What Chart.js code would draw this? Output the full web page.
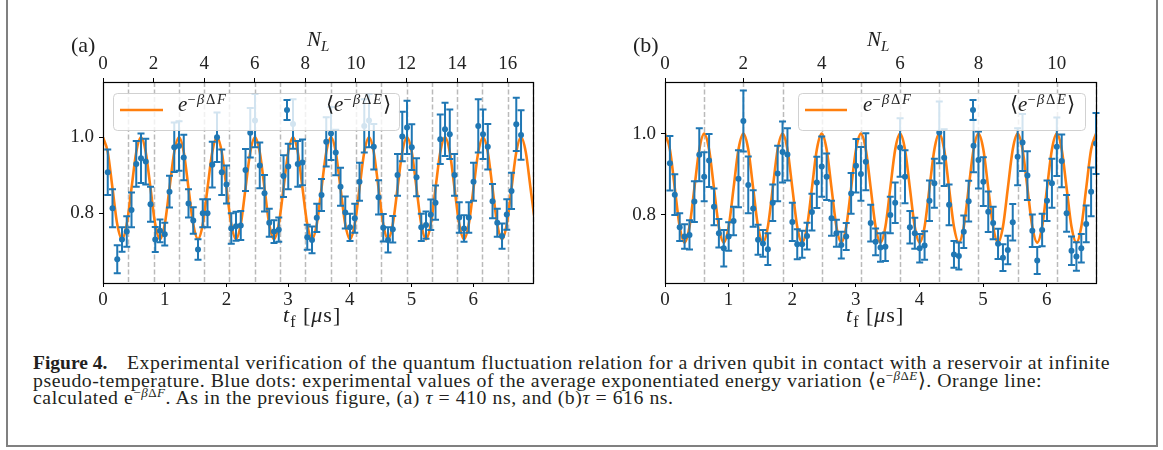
<!DOCTYPE html>
<html>
<head>
<meta charset="utf-8">
<script src="https://cdn.jsdelivr.net/npm/chart.js@4.4.1/dist/chart.umd.min.js"></script>
<style>
body{margin:0;background:#fff;width:1163px;height:450px;overflow:hidden;position:relative;font-family:'Liberation Serif',serif;color:#222}
canvas{position:absolute;top:0}
#ca{left:0}
#cb{left:580px}
.t{position:absolute;white-space:nowrap;font-size:21px;line-height:24px;color:#222}
.t sub{font-size:15px;vertical-align:-5px;line-height:0}
.lab{font-size:22px;letter-spacing:1px}
.lab sub{font-size:16px}
.leg sup{font-size:14.5px;letter-spacing:1.6px;vertical-align:7px;line-height:0}
.frame{position:absolute;left:6px;top:-4px;width:1152px;height:451px;border:2px solid #808080;box-sizing:border-box}
.cap{position:absolute;white-space:nowrap;font-size:19.8px;line-height:20px;color:#231f20}
.cap sup{font-size:13px;vertical-align:7px;line-height:0}
#fig{display:inline-block;font-size:19.5px}
</style>
</head>
<body>
<div class="frame"></div>
<canvas id="ca" width="580" height="340"></canvas>
<canvas id="cb" width="560" height="340"></canvas>

<div class="t" id="pa" style="font-size:22px">(a)</div>
<div class="t" id="pb" style="font-size:22px">(b)</div>
<div class="t" id="na"><i>N</i><sub><i>L</i></sub></div>
<div class="t" id="nb"><i>N</i><sub><i>L</i></sub></div>
<div class="t lab" id="ta"><i>t</i><sub>f</sub> [<i>μ</i>s]</div>
<div class="t lab" id="tb"><i>t</i><sub>f</sub> [<i>μ</i>s]</div>
<div class="t leg" id="la1"><i>e</i><sup>−<i>β</i>Δ<i>F</i></sup></div>
<div class="t leg" id="la2">⟨<i>e</i><sup>−<i>β</i>Δ<i>E</i></sup>⟩</div>
<div class="t leg" id="lb1"><i>e</i><sup>−<i>β</i>Δ<i>F</i></sup></div>
<div class="t leg" id="lb2">⟨<i>e</i><sup>−<i>β</i>Δ<i>E</i></sup>⟩</div>

<div class="cap" id="c1"><b id="fig">Figure 4.</b><span class="cr" id="c1r">Experimental verification of the quantum fluctuation relation for a driven qubit in contact with a reservoir at infinite</span></div>
<div class="cap" id="c2"><span class="cr">pseudo-temperature. Blue dots: experimental values of the average exponentiated energy variation ⟨e<sup>−<i>β</i>Δ<i>E</i></sup>⟩. Orange line:</span></div>
<div class="cap" id="c3"><span class="cr">calculated e<sup>−<i>β</i>Δ<i>F</i></sup>. As in the previous figure, (a) <i>τ</i> = 410 ns, and (b)<i>τ</i> = 616 ns.</span></div>

<script>
// sample times t_f [us], shared by both panels
const tf = [0, 0.077, 0.154, 0.231, 0.308, 0.385, 0.462, 0.539, 0.616, 0.693,
  0.770, 0.847, 0.924, 1.001, 1.078, 1.155, 1.232, 1.309, 1.386, 1.463,
  1.540, 1.617, 1.694, 1.771, 1.848, 1.925, 2.002, 2.079, 2.156, 2.233,
  2.310, 2.387, 2.464, 2.541, 2.618, 2.695, 2.772, 2.849, 2.926, 3.003,
  3.080, 3.157, 3.234, 3.311, 3.388, 3.465, 3.542, 3.619, 3.696, 3.773,
  3.850, 3.927, 4.004, 4.081, 4.158, 4.235, 4.312, 4.389, 4.466, 4.543,
  4.620, 4.697, 4.774, 4.851, 4.928, 5.005, 5.082, 5.159, 5.236, 5.313,
  5.390, 5.467, 5.544, 5.621, 5.698, 5.775, 5.852, 5.929, 6.006, 6.083,
  6.160, 6.237, 6.314, 6.391, 6.468, 6.545, 6.622, 6.699, 6.776, 6.853,
  6.930, 7.007]

// orange line e^{-beta dF}, one value per tf
const curveA = [
  1.0, 0.961, 0.866, 0.771, 0.732, 0.771, 0.866, 0.961,
  1.0, 0.961, 0.866, 0.771, 0.732, 0.771, 0.866, 0.961,
  1.0, 0.961, 0.866, 0.771, 0.732, 0.771, 0.866, 0.961,
  1.0, 0.961, 0.866, 0.771, 0.732, 0.771, 0.866, 0.961,
  1.0, 0.961, 0.866, 0.771, 0.732, 0.771, 0.866, 0.961,
  1.0, 0.961, 0.866, 0.771, 0.732, 0.771, 0.866, 0.961,
  1.0, 0.961, 0.866, 0.771, 0.732, 0.771, 0.866, 0.961,
  1.0, 0.961, 0.866, 0.771, 0.732, 0.771, 0.866, 0.961,
  1.0, 0.961, 0.866, 0.771, 0.732, 0.771, 0.866, 0.961,
  1.0, 0.961, 0.866, 0.771, 0.732, 0.771, 0.866, 0.961,
  1.0, 0.961, 0.866, 0.771, 0.732, 0.771, 0.866, 0.961,
  1.0, 0.961, 0.866, 0.771]
const curveB = [
  1.0, 0.961, 0.866, 0.771, 0.732, 0.771, 0.866, 0.961,
  1.0, 0.961, 0.866, 0.771, 0.732, 0.771, 0.866, 0.961,
  1.0, 0.961, 0.866, 0.771, 0.732, 0.771, 0.866, 0.961,
  1.0, 0.961, 0.866, 0.771, 0.732, 0.771, 0.866, 0.961,
  1.0, 0.961, 0.866, 0.771, 0.732, 0.771, 0.866, 0.961,
  1.0, 0.961, 0.866, 0.771, 0.732, 0.771, 0.866, 0.961,
  1.0, 0.961, 0.866, 0.771, 0.732, 0.771, 0.866, 0.961,
  1.0, 0.961, 0.866, 0.771, 0.732, 0.771, 0.866, 0.961,
  1.0, 0.961, 0.866, 0.771, 0.732, 0.771, 0.866, 0.961,
  1.0, 0.961, 0.866, 0.771, 0.732, 0.771, 0.866, 0.961,
  1.0, 0.961, 0.866, 0.771, 0.732, 0.771, 0.866, 0.961,
  1.0]

// measured <e^{-beta dE}>, points at tf[1..88]
const dataA = [0.908, 0.813, 0.679, 0.731, 0.752, 0.809, 0.930, 0.945, 0.936, 0.824,
  0.731, 0.754, 0.745, 0.857, 0.974, 0.977, 0.947, 0.826, 0.781, 0.705,
  0.800, 0.800, 0.928, 1.000, 0.908, 0.876, 0.760, 0.766, 0.768, 0.914,
  1.012, 1.044, 0.926, 0.853, 0.775, 0.752, 0.757, 0.898, 0.923, 1.035,
  0.930, 0.934, 0.737, 0.730, 0.788, 0.848, 0.988, 1.010, 0.960, 0.870,
  0.802, 0.763, 0.787, 0.883, 1.030, 1.044, 0.975, 0.842, 0.762, 0.730,
  0.758, 0.901, 1.002, 1.026, 0.974, 0.895, 0.763, 0.769, 0.796, 0.828,
  0.995, 1.021, 1.008, 0.901, 0.789, 0.760, 0.789, 0.883, 1.030, 1.008,
  0.975, 0.832, 0.775, 0.740, 0.797, 0.859, 1.034, 1.006]
const errA = [0.060, 0.050, 0.037, 0.032, 0.040, 0.046, 0.060, 0.065, 0.060, 0.046,
  0.033, 0.030, 0.030, 0.042, 0.065, 0.065, 0.060, 0.037, 0.035, 0.027,
  0.037, 0.037, 0.060, 0.065, 0.060, 0.050, 0.040, 0.038, 0.038, 0.055,
  0.065, 0.070, 0.060, 0.048, 0.037, 0.030, 0.032, 0.055, 0.060, 0.065,
  0.060, 0.060, 0.033, 0.035, 0.037, 0.042, 0.065, 0.070, 0.060, 0.050,
  0.042, 0.036, 0.038, 0.050, 0.070, 0.070, 0.060, 0.045, 0.036, 0.033,
  0.035, 0.055, 0.065, 0.070, 0.060, 0.050, 0.036, 0.036, 0.040, 0.045,
  0.065, 0.070, 0.065, 0.055, 0.040, 0.035, 0.040, 0.050, 0.070, 0.065,
  0.060, 0.045, 0.037, 0.033, 0.040, 0.048, 0.070, 0.065]
const dataB = [0.927, 0.850, 0.770, 0.747, 0.751, 0.833, 0.948, 0.894, 0.934, 0.820,
  0.755, 0.718, 0.747, 0.785, 0.889, 1.031, 0.874, 0.816, 0.739, 0.730,
  0.716, 0.830, 0.902, 0.955, 0.949, 0.783, 0.728, 0.728, 0.748, 0.807,
  0.880, 0.919, 0.894, 0.792, 0.755, 0.726, 0.747, 0.853, 0.921, 0.901,
  0.931, 0.780, 0.734, 0.720, 0.722, 0.800, 0.830, 0.966, 0.894, 0.770,
  0.755, 0.718, 0.725, 0.835, 0.878, 1.003, 0.941, 0.825, 0.703, 0.699,
  0.759, 0.834, 0.970, 0.935, 0.882, 0.808, 0.780, 0.729, 0.695, 0.714,
  0.782, 0.943, 0.978, 0.897, 0.761, 0.688, 0.763, 0.835, 0.878, 0.968,
  0.933, 0.804, 0.712, 0.698, 0.718, 0.778, 0.857, 0.976]
const errB = [0.067, 0.050, 0.034, 0.030, 0.036, 0.050, 0.065, 0.060, 0.065, 0.045,
  0.035, 0.045, 0.035, 0.035, 0.070, 0.075, 0.070, 0.045, 0.037, 0.033,
  0.039, 0.045, 0.068, 0.075, 0.064, 0.047, 0.037, 0.033, 0.033, 0.045,
  0.063, 0.074, 0.057, 0.043, 0.033, 0.033, 0.033, 0.050, 0.066, 0.066,
  0.070, 0.045, 0.033, 0.035, 0.035, 0.045, 0.050, 0.072, 0.065, 0.040,
  0.038, 0.035, 0.035, 0.050, 0.060, 0.076, 0.070, 0.050, 0.033, 0.033,
  0.040, 0.050, 0.065, 0.070, 0.060, 0.050, 0.040, 0.037, 0.033, 0.035,
  0.045, 0.070, 0.070, 0.060, 0.040, 0.033, 0.040, 0.050, 0.060, 0.072,
  0.065, 0.045, 0.035, 0.035, 0.035, 0.045, 0.060, 0.075]

// axes
const xTicks = [0, 1, 2, 3, 4, 5, 6]
const yTicks = [0.8, 1.0]
const nTicksA = [0, 2, 4, 6, 8, 10, 12, 14, 16]
const nTicksB = [0, 2, 4, 6, 8, 10]
const nLinesA = [1, 2, 3, 4, 5, 6, 7, 8, 9, 10, 11, 12, 13, 14, 15, 16, 17]
const nLinesB = [1, 2, 3, 4, 5, 6, 7, 8, 9, 10, 11]

const BLUE = '#1f77b4', ORANGE = '#ff7f0e'
const tickFont = {family: "'Liberation Serif', serif", size: 19}

const panelPlugin = {
  id: 'panel',
  beforeDatasetsDraw(chart, args, o) {
    const ctx = chart.ctx, a = chart.chartArea, x2 = chart.scales.x2
    ctx.save()
    ctx.strokeStyle = '#bababa'
    ctx.lineWidth = 1.5
    ctx.setLineDash([5, 2.5])
    o.lines.forEach(n => {
      const px = Math.round(x2.getPixelForValue(n)) + 0.5
      ctx.beginPath()
      ctx.moveTo(px, a.top)
      ctx.lineTo(px, a.bottom)
      ctx.stroke()
    })
    ctx.restore()
  },
  beforeDatasetDraw(chart, args) {
    if (args.index !== 1) return
    const ctx = chart.ctx, x = chart.scales.x, y = chart.scales.y
    ctx.save()
    ctx.strokeStyle = BLUE
    ctx.lineWidth = 2
    chart.data.datasets[1].data.forEach(p => {
      const px = x.getPixelForValue(p.x)
      const y1 = y.getPixelForValue(p.y - p.e), y2 = y.getPixelForValue(p.y + p.e)
      ctx.beginPath()
      ctx.moveTo(px, y1); ctx.lineTo(px, y2)
      ctx.moveTo(px - 3.5, y1); ctx.lineTo(px + 3.5, y1)
      ctx.moveTo(px - 3.5, y2); ctx.lineTo(px + 3.5, y2)
      ctx.stroke()
    })
    ctx.restore()
  },
  afterDatasetsDraw(chart, args, o) {
    const ctx = chart.ctx, b = o.box
    ctx.save()
    // legend box
    ctx.beginPath()
    ctx.roundRect(b[0] + 0.5, b[1] + 0.5, b[2] - b[0], b[3] - b[1], 4)
    ctx.fillStyle = 'rgba(255,255,255,0.8)'
    ctx.fill()
    ctx.strokeStyle = 'rgba(204,204,204,0.9)'
    ctx.lineWidth = 1
    ctx.stroke()
    // line handle
    ctx.strokeStyle = ORANGE
    ctx.lineWidth = 2.6
    ctx.beginPath()
    ctx.moveTo(o.line[0], o.line[2]); ctx.lineTo(o.line[1], o.line[2])
    ctx.stroke()
    // errorbar handle
    const [hx, hy] = o.err
    ctx.strokeStyle = BLUE
    ctx.lineWidth = 2
    ctx.beginPath()
    ctx.moveTo(hx, hy - 10); ctx.lineTo(hx, hy + 10)
    ctx.moveTo(hx - 3.5, hy - 10); ctx.lineTo(hx + 3.5, hy - 10)
    ctx.moveTo(hx - 3.5, hy + 10); ctx.lineTo(hx + 3.5, hy + 10)
    ctx.stroke()
    ctx.fillStyle = BLUE
    ctx.beginPath()
    ctx.arc(hx, hy, 3, 0, Math.PI * 2)
    ctx.fill()
    ctx.restore()
  },
  afterDraw(chart) {
    const ctx = chart.ctx, a = chart.chartArea
    ctx.save()
    ctx.strokeStyle = '#000'
    ctx.lineWidth = 1.2
    ctx.strokeRect(a.left + 0.5, a.top + 0.5, a.right - a.left, a.bottom - a.top)
    ctx.restore()
  }
}

function axis(pos, min, max, ticks, fmt, pad, fit) {
  return {
    type: 'linear', position: pos, min: min, max: max,
    afterFit: fit,
    afterBuildTicks: s => { s.ticks = ticks.map(v => ({value: v})) },
    ticks: {font: tickFont, color: '#222', padding: pad, maxRotation: 0, autoSkip: false, callback: fmt},
    grid: {drawOnChartArea: false, drawTicks: true, tickLength: 4, color: '#000', lineWidth: 1},
    border: {display: false}
  }
}

function makePanel(id, c) {
  const line = c.curve.map((v, i) => ({x: tf[i], y: v}))
  const pts = c.data.map((v, i) => ({x: tf[i + 1], y: v, e: c.err[i]}))
  return new Chart(document.getElementById(id), {
    type: 'scatter',
    data: {
      datasets: [
        {data: line, showLine: true, borderColor: ORANGE, borderWidth: 2.6, pointRadius: 0,
          cubicInterpolationMode: 'monotone', order: 2},
        {data: pts, pointRadius: 3, pointBackgroundColor: BLUE, pointBorderWidth: 0, order: 1}
      ]
    },
    options: {
      responsive: false, animation: false, devicePixelRatio: 1,
      layout: {padding: {left: 0, right: c.padR, top: 0, bottom: 0}},
      events: [],
      plugins: {
        legend: {display: false}, tooltip: {enabled: false},
        panel: {lines: c.lines, box: c.box, line: c.lineHandle, err: c.errHandle}
      },
      scales: {
        x: axis('bottom', 0, c.xMax, xTicks, v => String(v), 2, s => { s.height = 57 }),
        x2: axis('top', 0, c.nMax, c.nTicks, v => String(v), 3, s => { s.height = 82 }),
        y: axis('left', c.yMin, c.yMax, yTicks, v => v.toFixed(1), 5, s => { s.width = c.leftW })
      }
    },
    plugins: [panelPlugin]
  })
}

makePanel('ca', {
  curve: curveA, data: dataA, err: errA, lines: nLinesA, nTicks: nTicksA,
  xMax: 6.97, nMax: 17, yMin: 0.6166, yMax: 1.1455, leftW: 103, padR: 47,
  box: [113, 93, 399, 130], lineHandle: [120, 163, 110], errHandle: [287, 110]
})
makePanel('cb', {
  curve: curveB, data: dataB, err: errB, lines: nLinesB, nTicks: nTicksB,
  xMax: 6.776, nMax: 11, yMin: 0.6327, yMax: 1.127, leftW: 85, padR: 44,
  box: [218, 93, 505, 130], lineHandle: [225, 267, 110], errHandle: [393, 110]
})

// text placed by left edge and baseline
function place(id, x, base) {
  const el = document.getElementById(id)
  const m = document.createElement('span')
  m.style.cssText = 'display:inline-block;width:0;height:0;vertical-align:baseline'
  el.appendChild(m)
  el.style.left = x + 'px'
  el.style.top = (base - m.offsetTop) + 'px'
}

// caption: "Experimental" starts at x=127 and line 1 ends at x=1110
document.getElementById('fig').style.width = '94px'
const c1r = document.getElementById('c1r')
const ls = (983 - c1r.getBoundingClientRect().width) / c1r.textContent.length
document.querySelectorAll('.cr').forEach(el => { el.style.letterSpacing = ls + 'px' })

place('pa', 71, 52)
place('pb', 633, 52)
place('na', 307, 46)
place('nb', 867, 46)
place('ta', 283, 322)
place('tb', 846, 322)
place('la1', 178, 111)
place('la2', 326, 111)
place('lb1', 863, 111)
place('lb2', 1010, 111)
place('c1', 33, 369)
place('c2', 33, 386.5)
place('c3', 33, 404)
</script>
</body>
</html>
